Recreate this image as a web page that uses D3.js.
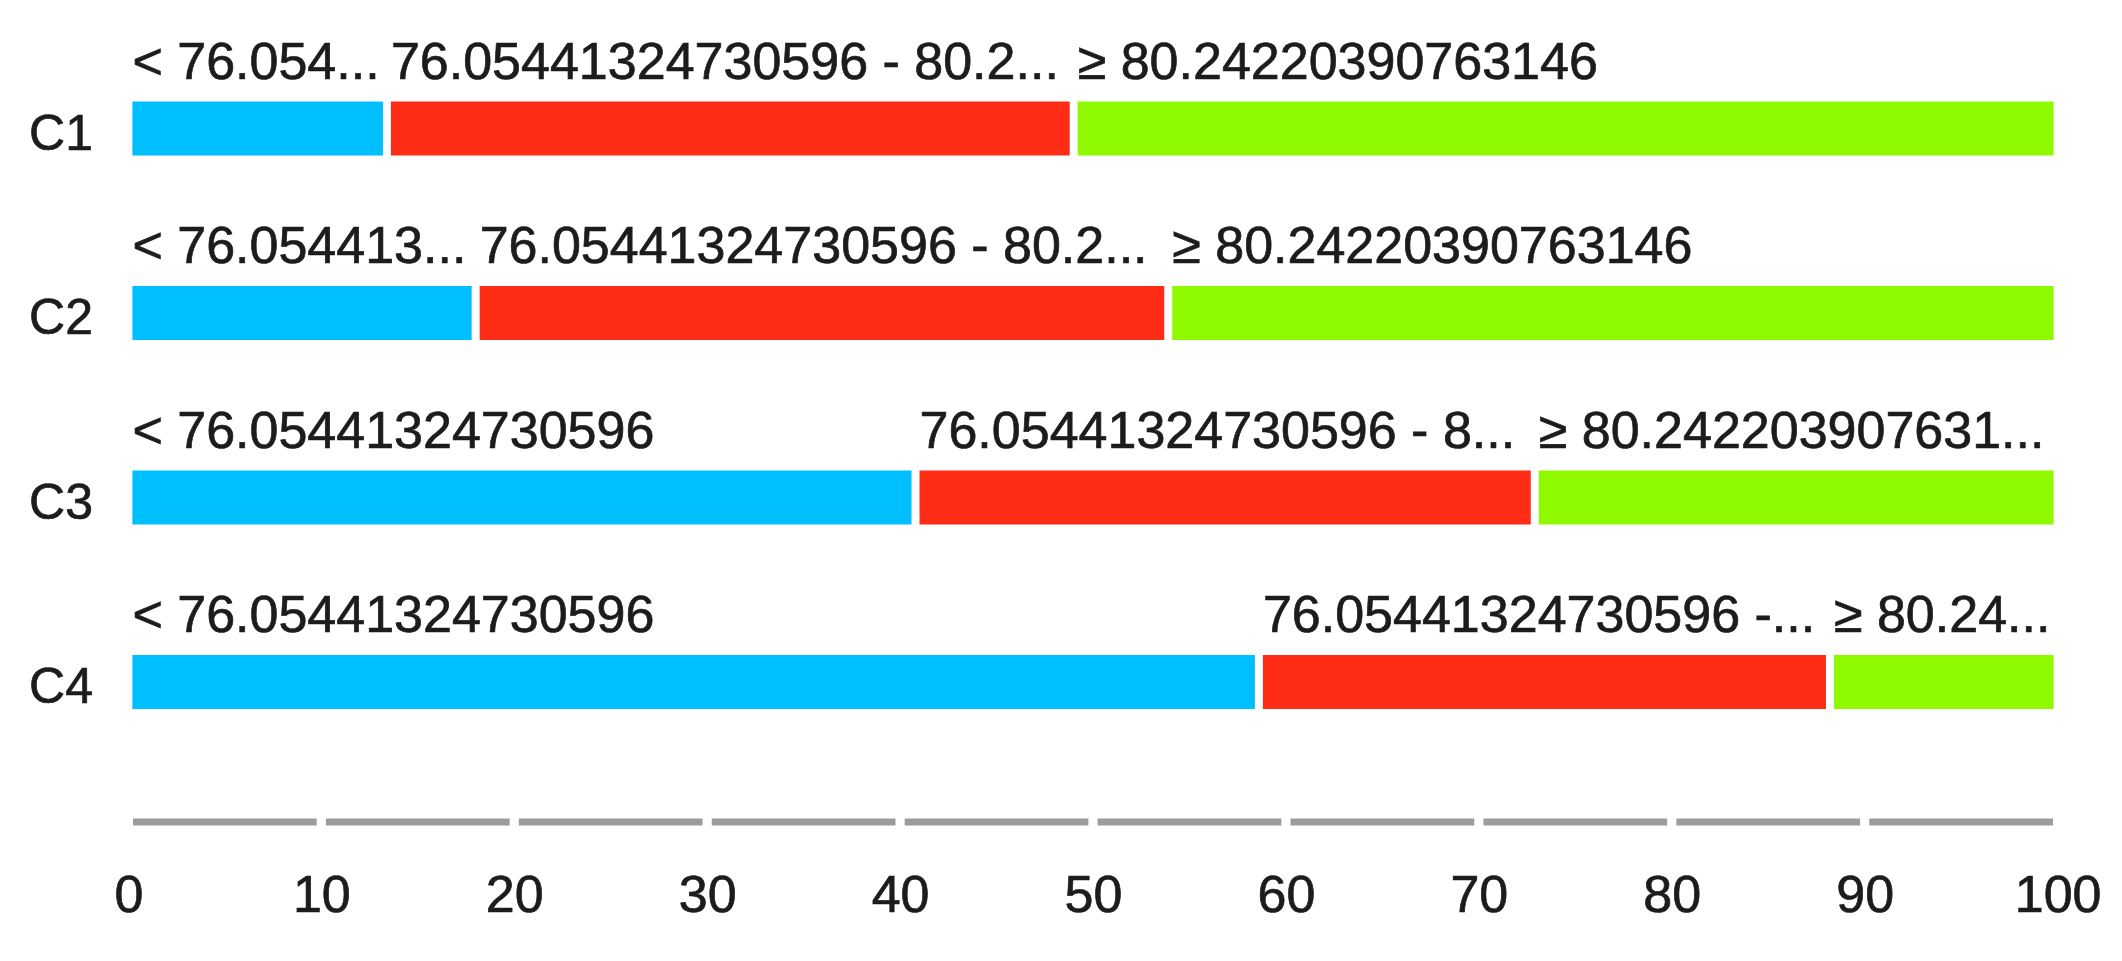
<!DOCTYPE html>
<html>
<head>
<meta charset="utf-8">
<script src="https://cdn.jsdelivr.net/npm/d3@7"></script>
<style>
  html, body { margin: 0; padding: 0; background: #ffffff; }
  svg { display: block; }
  text { font-family: "Liberation Sans", Arial, sans-serif; fill: #1c1c1c; stroke: #1c1c1c; stroke-width: 0.7px; }
</style>
</head>
<body>
<svg id="chart" width="2122" height="961"></svg>
<script>
// ---- data ----
const categories = ["C1", "C2", "C3", "C4"];
const seriesNames = ["low", "mid", "high"];
const lowValues  = [13.4, 18.0, 40.8, 58.6];
const midValues  = [35.6, 35.9, 32.1, 29.6];
const highValues = [51.0, 46.1, 27.1, 11.8];
const segmentLabels = [
  ["< 76.054...", "76.05441324730596 - 80.2...", "\u2265 80.24220390763146"],
  ["< 76.054413...", "76.05441324730596 - 80.2...", "\u2265 80.24220390763146"],
  ["< 76.05441324730596", "76.05441324730596 - 8...", "\u2265 80.242203907631..."],
  ["< 76.05441324730596", "76.05441324730596 -...", "\u2265 80.24..."]
];
const tickValues = [0, 10, 20, 30, 40, 50, 60, 70, 80, 90, 100];
const colors = ["#00bfff", "#ff2d16", "#8ff900"];

// ---- layout ----
const svg = d3.select("#chart");
const x = d3.scaleLinear().domain([0, 100]).range([128.4, 2057.6]);
const y = d3.scalePoint().domain(categories).range([128.5, 682]);
const barH = 54;
const inset = 4;
const color = d3.scaleOrdinal().domain(seriesNames).range(colors);

const rows = categories.map((c, i) => {
  const vals = [lowValues[i], midValues[i], highValues[i]];
  let acc = 0;
  const segs = vals.map((v, j) => {
    const s = { cat: c, series: seriesNames[j], x0: acc, x1: acc + v, label: segmentLabels[i][j] };
    acc += v;
    return s;
  });
  return { cat: c, segs };
});

// category labels
svg.append("g").selectAll("text")
  .data(categories)
  .join("text")
  .attr("x", 93)
  .attr("y", d => y(d) + 21)
  .attr("text-anchor", "end")
  .attr("font-size", 50)
  .text(d => d);

const rowG = svg.append("g").selectAll("g")
  .data(rows)
  .join("g");

rowG.selectAll("rect")
  .data(d => d.segs)
  .join("rect")
  .attr("x", d => x(d.x0) + inset)
  .attr("y", d => y(d.cat) - barH / 2)
  .attr("width", d => Math.max(0, x(d.x1) - x(d.x0) - 2 * inset))
  .attr("height", barH)
  .attr("fill", d => color(d.series));

rowG.selectAll("text")
  .data(d => d.segs)
  .join("text")
  .attr("x", d => x(d.x0) + inset)
  .attr("y", d => y(d.cat) - 50)
  .attr("font-size", 52)
  .text(d => d.label);

// axis
const axisY = 822;
const axisG = svg.append("g").attr("transform", `translate(0,${axisY})`);
axisG.selectAll("line.seg")
  .data(d3.pairs(tickValues))
  .join("line")
  .attr("class", "seg")
  .attr("x1", d => x(d[0]) + 4.6)
  .attr("x2", d => x(d[1]) - 4.6)
  .attr("y1", 0)
  .attr("y2", 0)
  .attr("stroke", "#9c9c9c")
  .attr("stroke-width", 7);

const axis = d3.axisBottom(x).tickValues(tickValues).tickSize(0).tickFormat(d3.format("d"));
const ax = svg.append("g").attr("transform", `translate(0,${axisY})`).call(axis);
ax.select(".domain").remove();
ax.selectAll(".tick text")
  .attr("y", 90)
  .attr("dy", null)
  .attr("font-size", 52)
  .attr("font-family", "Liberation Sans, Arial, sans-serif")
  .attr("fill", "#1c1c1c")
  .attr("stroke", "#1c1c1c")
  .attr("stroke-width", 0.7);
</script>
</body>
</html>
